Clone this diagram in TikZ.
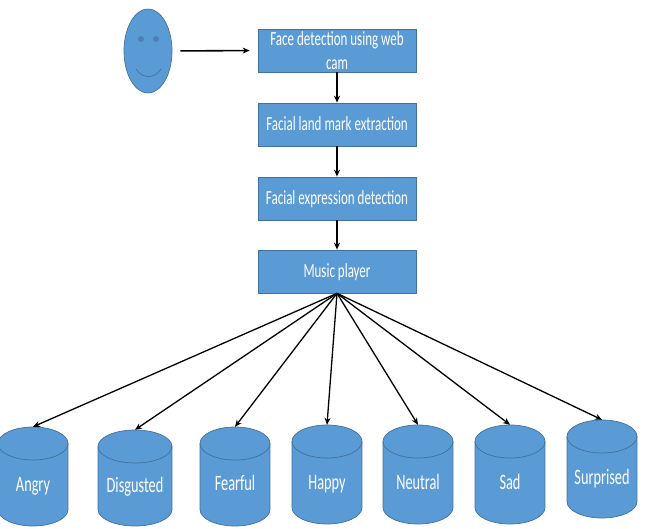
\documentclass[tikz,border=0pt]{standalone}
\usepackage{fontspec}
\setmainfont[FakeStretch=0.65]{Carlito}
\usetikzlibrary{shapes.geometric,arrows.meta}
\definecolor{fillblue}{HTML}{5B9BD5}
\definecolor{edgeblue}{HTML}{41719C}
\definecolor{eyeblue}{HTML}{4A80B5}
\newcommand{\drumshape}[6]{% name, cx, top, bottom, rx, label-y, then the label
  \fill[fillblue] (#2-#5,#3+16.5) rectangle (#2+#5,#4-16.5);
  \fill[fillblue] (#2,#4-16.5) ellipse[x radius=#5,y radius=16.5];
  \fill[fillblue] (#2,#3+16.5) ellipse[x radius=#5,y radius=16.5];
  \draw[edgeblue,line width=.7pt] (#2,#3+16.5) ellipse[x radius=#5,y radius=16.5];
  \draw[edgeblue,line width=.7pt] (#2-#5,#3+16.5) -- (#2-#5,#4-16.5)
    arc[start angle=180,end angle=0,x radius=#5,y radius=16.5] -- (#2+#5,#3+16.5);
  \node[drum,minimum width=2*#5 pt,minimum height=#4-#3 pt] (#1) at (#2,{(#3+#4)/2}) {};
  \node[drumtext] (#1-label) at (#2,#6)}
\begin{document}
\begin{tikzpicture}[x=1pt,y=-1pt,
  stepbox/.style={draw=edgeblue,fill=fillblue,line width=.7pt,minimum width=158pt,minimum height=43pt,inner sep=0pt,text=white,font=\fontsize{20}{24}\selectfont,align=center},
  onelinebox/.style={stepbox,text height=17pt,text depth=4pt},
  drum/.style={inner sep=0pt,draw=none,fill=none},
  drumtext/.style={inner sep=0pt,text=white,text height=17pt,text depth=4pt,font=\fontsize{22}{24}\selectfont},
  flow/.style={draw=black,line width=1.3pt,-{Stealth[length=7pt,width=6pt]}},
  eye/.style={circle,fill=eyeblue,minimum size=6pt,inner sep=0pt}]
\useasboundingbox (0,0) rectangle (646,529);
\node[ellipse,draw=edgeblue,fill=fillblue,line width=.7pt,minimum width=48pt,minimum height=84pt,inner sep=0pt] (face) at (148,51) {};
\node[eye] (eyeL) at (141,39) {};
\node[eye] (eyeR) at (156,39) {};
\draw[edgeblue,line width=.7pt] (136,69) .. controls (142,79) and (155,79) .. (161,69);
\node[stepbox] (detect) at (337,50.5) {Face detection using web\\cam};
\node[onelinebox] (land) at (337,124.5) {Facial land mark extraction};
\node[onelinebox] (expr) at (337,198.5) {Facial expression detection};
\node[onelinebox] (player) at (337,271.5) {Music player};
\drumshape{angry}{33}{427}{526}{35}{485}{Angry};
\drumshape{disg}{135}{430}{526}{37}{486}{Disgusted};
\drumshape{fear}{235}{427}{526}{35}{484}{Fearful};
\drumshape{happy}{327}{425}{524}{35}{483}{Happy};
\drumshape{neutral}{418}{425}{524}{35}{483}{Neutral};
\drumshape{sad}{510}{425}{524}{35}{483}{Sad};
\drumshape{surp}{602}{420}{518}{35}{478}{Surprised};
\draw[flow,line width=1.6pt,shorten <=8pt,shorten >=8pt] (face.east) -- (detect.west);
\draw[flow] (detect) -- (land);
\draw[flow] (land) -- (expr);
\draw[flow] (expr) -- (player);
\foreach \t in {angry,disg,fear,happy,neutral,sad,surp}
  \draw[flow] (player.south) -- (\t.north);
\end{tikzpicture}
\end{document}
